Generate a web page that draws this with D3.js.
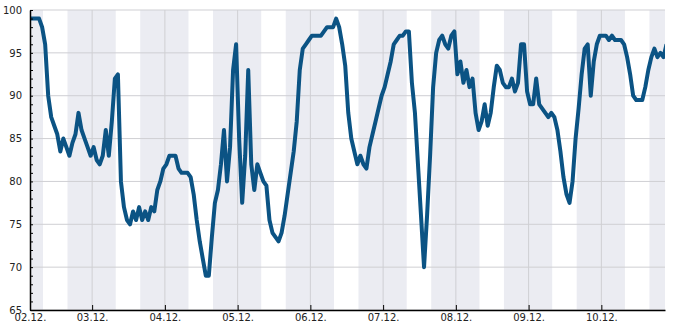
<!DOCTYPE html>
<html>
<head>
    <meta charset="utf-8">
    <title>Humidity</title>
    <script src="https://d3js.org/d3.v7.min.js"></script>
    <style>
      body { margin: 0; background: #fff; }
      text { font-family: "DejaVu Sans", sans-serif; font-size: 10px; fill: #222; }
    </style>
</head>

<body>
<div id="chart"></div>
<script type="text/javascript">
/* global d3 */

// hourly readings, first one at 02.12. 03:30
const start = new Date(2023, 11, 2, 3, 30);
const end = new Date(2023, 11, 10, 21, 0);
const humidity = [
  99, 99, 99, 99, 98, 96, 90, 87.5, 86.5, 85.5,
  83.5, 85, 84, 83, 84.5, 85.5, 88, 86, 85, 84,
  83, 84, 82.5, 82, 83, 86, 83, 87, 92, 92.5,
  80, 77, 75.5, 75, 76.5, 75.5, 77, 75.5, 76.5, 75.5,
  77, 76.5, 79, 80, 81.5, 82, 83, 83, 83, 81.5,
  81, 81, 81, 80.5, 78.5, 75.5, 73, 71, 69, 69,
  73.5, 77.5, 79, 82, 86, 80, 84, 93, 96, 85,
  77.5, 83, 93, 82, 79, 82, 81, 80, 79.5, 75.5,
  74, 73.5, 73, 74, 76, 78.5, 81, 83.5, 87, 93,
  95.5, 96, 96.5, 97, 97, 97, 97, 97.5, 98, 98,
  98, 99, 98, 96, 93.5, 88, 85, 83.5, 82, 83,
  82, 81.5, 84, 85.5, 87, 88.5, 90, 91, 92.5, 94,
  96, 96.5, 97, 97, 97.5, 97.5, 91.5, 88, 82, 76,
  70, 76, 83, 91, 95, 96.5, 97, 96, 95.5, 97,
  97.5, 92.5, 94, 91.5, 93, 91, 92, 88, 86, 87,
  89, 86.5, 88, 91, 93.5, 93, 91.5, 91, 91, 92,
  90.5, 91.5, 96, 96, 90.5, 89, 89, 92, 89, 88.5,
  88, 87.5, 88, 87.5, 86, 83.5, 80.5, 78.5, 77.5, 80,
  85, 88.5, 92.5, 95.5, 96, 90, 94, 96, 97, 97,
  97, 96.5, 97, 96.5, 96.5, 96.5, 96, 94.5, 92.5, 90,
  89.5, 89.5, 89.5, 91, 93, 94.5, 95.5, 94.5, 95, 94.5,
  96
];

// night shading: sunset and sunrise (hour, minute)
const sunset = [15, 52];
const sunrise = [7, 47];

const yTicks = [65, 70, 75, 80, 85, 90, 95, 100];

const margin = { top: 10, right: 20, bottom: 20, left: 30 };
const width = 685 - margin.left - margin.right;
const height = 330 - margin.top - margin.bottom;

const data = humidity.map((v, i) => ({ t: d3.timeHour.offset(start, i), v }));

const svg = d3.select('#chart')
  .append('svg')
    .attr('width', width + margin.left + margin.right)
    .attr('height', height + margin.top + margin.bottom)
  .append('g')
    .attr('transform', `translate(${margin.left}, ${margin.top})`);

const xScale = d3.scaleTime()
  .domain([start, end])
  .range([0, width]);

const yScale = d3.scaleLinear()
  .domain([65, 100])
  .range([height, 0]);

svg.append('clipPath')
    .attr('id', 'plot')
  .append('rect')
    .attr('width', width)
    .attr('height', height);

// night bands
const nights = d3.timeDay.range(d3.timeDay.offset(d3.timeDay.floor(start), -1), end)
  .map(d => [
    new Date(d.getFullYear(), d.getMonth(), d.getDate(), sunset[0], sunset[1]),
    new Date(d.getFullYear(), d.getMonth(), d.getDate() + 1, sunrise[0], sunrise[1])
  ]);

svg.append('g')
    .attr('clip-path', 'url(#plot)')
  .selectAll('rect')
  .data(nights)
  .enter()
  .append('rect')
    .attr('x', d => xScale(d[0]))
    .attr('width', d => xScale(d[1]) - xScale(d[0]))
    .attr('y', 0)
    .attr('height', height)
    .style('fill', '#ebecf2');

const days = d3.timeDay.range(d3.timeDay.ceil(start), end);

// grid
svg.append('g')
  .selectAll('line')
  .data(yTicks)
  .enter()
  .append('line')
    .attr('x1', 0)
    .attr('x2', width)
    .attr('y1', d => yScale(d))
    .attr('y2', d => yScale(d))
    .style('stroke', '#cfcfd3');

svg.append('g')
  .selectAll('line')
  .data(days)
  .enter()
  .append('line')
    .attr('x1', d => xScale(d))
    .attr('x2', d => xScale(d))
    .attr('y1', 0)
    .attr('y2', height)
    .style('stroke', '#cfcfd3');

// humidity line
const line = d3.line()
  .x(d => xScale(d.t))
  .y(d => yScale(d.v));

svg.append('path')
    .datum(data)
    .attr('clip-path', 'url(#plot)')
    .attr('d', line)
    .style('fill', 'none')
    .style('stroke', '#0b5384')
    .style('stroke-width', 4)
    .style('stroke-linejoin', 'round');

// axes
const xAxis = svg.append('g')
    .attr('transform', `translate(0, ${height})`)
  .call(d3.axisBottom(xScale)
    .tickValues([start].concat(days))
    .tickFormat(d3.timeFormat('%d.%m.'))
    .tickSizeInner(-5)
    .tickSizeOuter(0)
    .tickPadding(4));

const yAxis = svg.append('g')
  .call(d3.axisLeft(yScale)
    .tickValues(d3.range(65, 101, 1))
    .tickFormat(d => (d % 5 === 0 ? d : ''))
    .tickSizeInner(-3)
    .tickSizeOuter(0)
    .tickPadding(8));

[xAxis, yAxis].forEach(a => {
  a.select('.domain').style('stroke', '#000').style('stroke-width', 1.5);
  a.selectAll('.tick line').style('stroke', '#000');
  a.selectAll('text').style('font-family', '"DejaVu Sans", sans-serif').style('font-size', '10px').style('fill', '#222');
});
</script>
</body>
</html>
